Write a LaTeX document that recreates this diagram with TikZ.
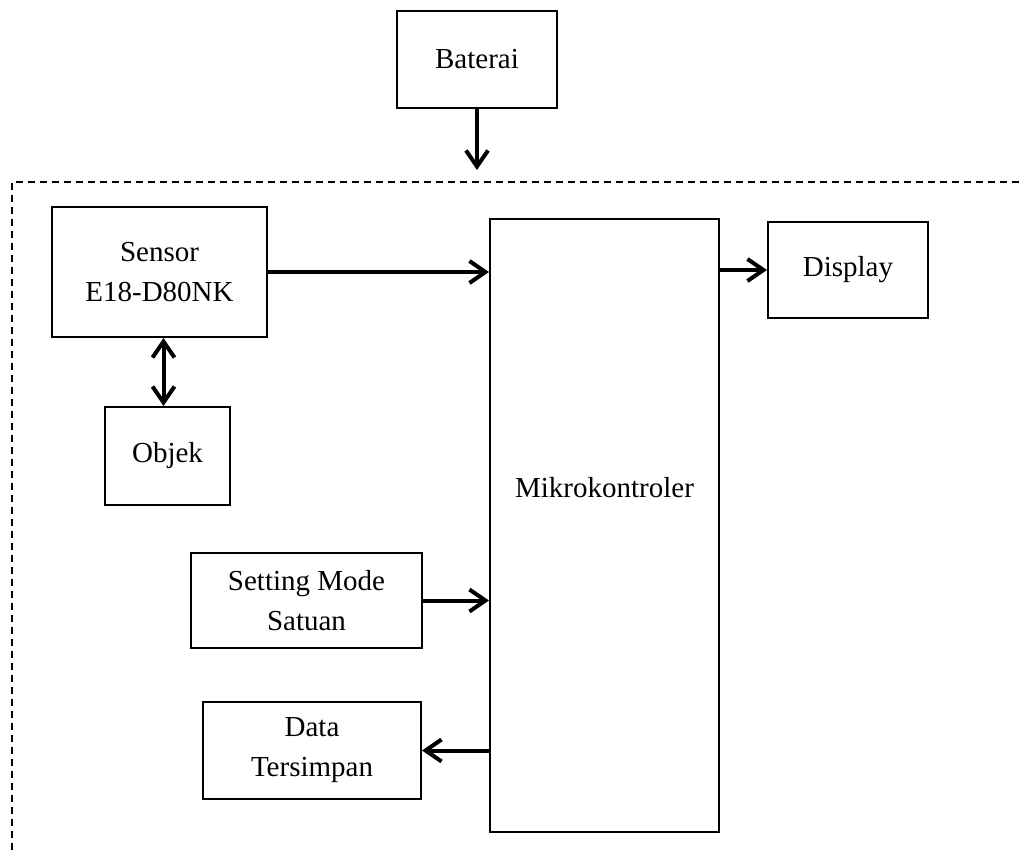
\documentclass[tikz,border=0pt]{standalone}
\usepackage{fontspec}
\setmainfont{Liberation Serif}
\usetikzlibrary{arrows.meta}

\def \batX{477}
\def \batY{59.5}
\def \senX{159.5}
\def \senY{272}
\def \objX{167.5}
\def \objY{456}
\def \mcuX{604.5}
\def \mcuY{525.5}
\def \dspX{848}
\def \dspY{270}
\def \setX{306.5}
\def \setY{600.5}
\def \datX{312}
\def \datY{750.5}

\tikzset{
  block/.style={draw, line width=1pt, inner sep=0pt, align=center,
    font=\fontsize{14.5}{20}\selectfont},
  blocktext/.style={inner sep=0pt, font=\fontsize{14.5}{20}\selectfont},
  flow/.style={line width=2pt, -{Straight Barb[length=8pt,width=11pt,line width=2pt]}},
  flowboth/.style={line width=2pt, {Straight Barb[length=8pt,width=11pt,line width=2pt]}-{Straight Barb[length=8pt,width=11pt,line width=2pt]}},
  frame/.style={line width=0.8pt, dash pattern=on 3.5pt off 2.5pt}
}

\begin{document}
\begin{tikzpicture}[x=0.5pt, y=-0.5pt]
\useasboundingbox (0,0) rectangle (1019,852);

% ---- Frame
\coordinate (frameR) at (1019,182);
\coordinate (frameC) at (12,182);
\coordinate (frameB) at (12,852);
\draw[frame] (frameR) -- (frameC) -- (frameB);

% ---- Blocks
\node[block, minimum width=80pt, minimum height=48.5pt] (baterai) at (\batX, \batY) {Baterai};
\node[block, minimum width=107.5pt, minimum height=65pt] (sensor) at (\senX, \senY) {Sensor\\E18-D80NK};
\node[block, minimum width=62.5pt, minimum height=49pt] (objek) at (\objX, \objY) {Objek};
\node[block, minimum width=114.5pt, minimum height=306.5pt] (mikro) at (\mcuX, \mcuY) {};
\node[blocktext] (mikrolabel) at ([yshift=19pt]mikro.center) {Mikrokontroler};
\node[block, minimum width=80pt, minimum height=48pt] (display) at (\dspX, \dspY) {Display};
\node[block, minimum width=115.5pt, minimum height=47.5pt] (setting) at (\setX, \setY) {Setting Mode\\Satuan};
\node[block, minimum width=109pt, minimum height=48.5pt] (data) at (\datX, \datY) {Data\\Tersimpan};

% ---- Arrows
\coordinate (powerin) at (477,170);
\draw[flow] (baterai) -- (powerin);
\draw[flowboth] ([xshift=2pt]sensor.south) -- ([xshift=-2pt]objek.north);
\draw[flow] (sensor.east) -- (mikro.west |- sensor.east);
\draw[flow] (mikro.east |- display.west) -- (display.west);
\draw[flow] (setting.east) -- (mikro.west |- setting.east);
\draw[flow] (mikro.west |- data.east) -- (data.east);
\end{tikzpicture}
\end{document}
